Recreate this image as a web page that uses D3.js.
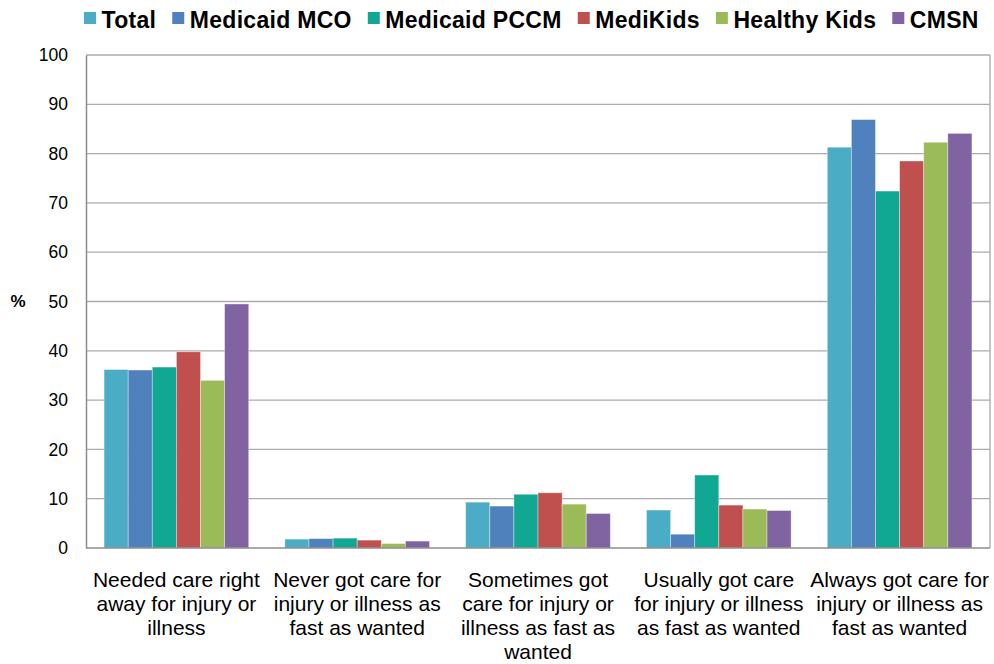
<!DOCTYPE html>
<html>
<head>
<meta charset="utf-8">
<script src="https://cdn.jsdelivr.net/npm/d3@7/dist/d3.min.js"></script>
<style>
  html, body { margin: 0; padding: 0; background: #fff; }
  svg { display: block; font-family: "Liberation Sans", Arial, sans-serif; }
</style>
</head>
<body>
<svg id="chart" width="994" height="664"></svg>
<script>
// Survey measures (rows) and plan types (series)
const categories = [
  ["Needed care right", "away for injury or", "illness"],
  ["Never got care for", "injury or illness as", "fast as wanted"],
  ["Sometimes got", "care for injury or", "illness as fast as", "wanted"],
  ["Usually got care", "for injury or illness", "as fast as wanted"],
  ["Always got care for", "injury or illness as", "fast as wanted"]
];
const seriesNames = ["Total", "Medicaid MCO", "Medicaid PCCM", "MediKids", "Healthy Kids", "CMSN"];
const seriesColors = ["#4BACC6", "#4F81BD", "#10A793", "#C0504D", "#9BBB59", "#8064A2"];

const total        = [36.2, 1.8, 9.3, 7.7, 81.3];
const medicaidMCO  = [36.1, 1.9, 8.5, 2.8, 86.9];
const medicaidPCCM = [36.7, 2.0, 10.9, 14.8, 72.4];
const mediKids     = [39.8, 1.6, 11.2, 8.7, 78.5];
const healthyKids  = [34.0, 0.9, 8.9, 7.9, 82.3];
const cmsn         = [49.5, 1.4, 7.0, 7.6, 84.1];
const seriesValues = [total, medicaidMCO, medicaidPCCM, mediKids, healthyKids, cmsn];

const yTicks = [0, 10, 20, 30, 40, 50, 60, 70, 80, 90, 100];
const yLabel = "%";

const svg = d3.select("#chart");
const plot = { left: 86, right: 990, top: 55, bottom: 548 };

const catIdx = d3.range(categories.length);
const x0 = d3.scaleBand().domain(catIdx).range([plot.left, plot.right])
  .paddingInner(0.2).paddingOuter(0.1);
const x1 = d3.scaleBand().domain(d3.range(seriesNames.length)).range([0, x0.bandwidth()]);
const y = d3.scaleLinear().domain([0, 100]).range([plot.bottom, plot.top]);

// Gridlines
svg.append("g").selectAll("line").data(yTicks.filter(d => d > 0)).join("line")
  .attr("x1", plot.left).attr("x2", plot.right)
  .attr("y1", d => y(d)).attr("y2", d => y(d))
  .attr("stroke", "#ababab").attr("stroke-width", 1.3);

// Right border of the plot area
svg.append("line")
  .attr("x1", plot.right).attr("x2", plot.right)
  .attr("y1", plot.top).attr("y2", plot.bottom)
  .attr("stroke", "#b3b3b3").attr("stroke-width", 1.5);

// Bars
const groups = svg.append("g").selectAll("g").data(catIdx).join("g")
  .attr("transform", i => `translate(${x0(i)},0)`);
groups.selectAll("rect")
  .data(i => seriesValues.map((vals, s) => ({ s, v: vals[i] })))
  .join("rect")
  .attr("x", d => x1(d.s))
  .attr("width", x1.bandwidth())
  .attr("y", d => y(d.v))
  .attr("height", d => y(0) - y(d.v))
  .attr("fill", d => seriesColors[d.s])
  .attr("stroke", "rgba(255,255,255,0.45)")
  .attr("stroke-width", 0.8);

// Y axis
const yAxis = d3.axisLeft(y).tickValues(yTicks).tickSize(0).tickPadding(18);
const gy = svg.append("g").attr("transform", `translate(${plot.left},0)`).call(yAxis);
gy.select(".domain").attr("stroke", "#8c8c8c").attr("stroke-width", 1.5);
gy.selectAll("text").attr("font-size", 17.5).attr("fill", "#000")
  .attr("font-family", "Liberation Sans, Arial, sans-serif");

// X baseline
svg.append("line")
  .attr("x1", plot.left).attr("x2", plot.right)
  .attr("y1", y(0)).attr("y2", y(0))
  .attr("stroke", "#8c8c8c").attr("stroke-width", 1.5);

// Y label
svg.append("text")
  .attr("x", 18).attr("y", y(50)).attr("dy", "0.35em")
  .attr("text-anchor", "middle")
  .attr("font-size", 17).attr("font-weight", "bold")
  .text(yLabel);

// Category labels (wrapped)
const catText = svg.append("g").selectAll("text").data(catIdx).join("text")
  .attr("text-anchor", "middle")
  .attr("font-size", 21)
  .attr("fill", "#000");
catText.each(function(i) {
  const t = d3.select(this);
  const cx = x0(i) + x0.bandwidth() / 2;
  categories[i].forEach((line, k) => {
    t.append("tspan").attr("x", cx).attr("y", 587 + k * 24).text(line);
  });
});

// Legend
const legend = svg.append("g");
let lx = 84;
seriesNames.forEach((name, s) => {
  legend.append("rect")
    .attr("x", lx).attr("y", 12).attr("width", 12).attr("height", 12)
    .attr("fill", seriesColors[s]);
  const txt = legend.append("text")
    .attr("x", lx + 17.5).attr("y", 28)
    .attr("font-size", 23).attr("font-weight", "bold")
    .attr("letter-spacing", 0.3)
    .text(name);
  const w = txt.node().getComputedTextLength();
  lx += 17.5 + w + 16;
});
</script>
</body>
</html>
